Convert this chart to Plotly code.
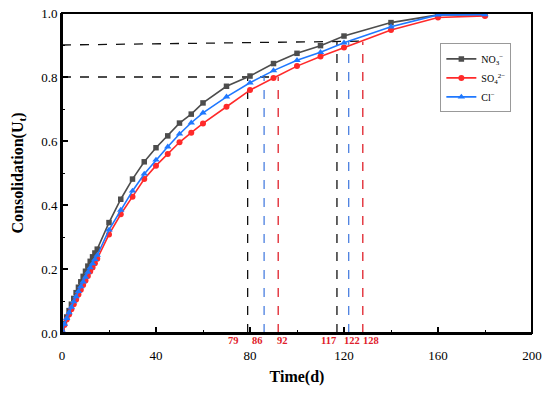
import plotly.graph_objects as go

time_d = list(range(0, 16)) + [20, 25, 30, 35, 40, 45, 50, 55, 60, 70, 80, 90, 100, 110, 120, 140, 160, 180]

no3 = [0.010, 0.030, 0.050, 0.070, 0.090, 0.108, 0.126, 0.143, 0.160, 0.177, 0.193, 0.209, 0.224, 0.238, 0.250, 0.262,
       0.345, 0.418, 0.481, 0.535, 0.579, 0.616, 0.656, 0.684, 0.719, 0.771, 0.803, 0.842, 0.874, 0.898, 0.928,
       0.970, 0.994, 0.995]
so4 = [0.008, 0.025, 0.042, 0.058, 0.074, 0.090, 0.105, 0.120, 0.135, 0.150, 0.164, 0.178, 0.192, 0.205, 0.218, 0.232,
       0.308, 0.371, 0.426, 0.481, 0.523, 0.559, 0.596, 0.626, 0.655, 0.707, 0.759, 0.797, 0.834, 0.864, 0.892,
       0.947, 0.986, 0.991]
cl = [0.009, 0.028, 0.046, 0.064, 0.081, 0.098, 0.114, 0.130, 0.145, 0.160, 0.175, 0.190, 0.204, 0.217, 0.230, 0.243,
      0.322, 0.384, 0.444, 0.497, 0.541, 0.582, 0.622, 0.657, 0.688, 0.738, 0.782, 0.820, 0.852, 0.877, 0.907,
      0.957, 0.994, 0.995]

# guide lines: times reaching 80% and 90% consolidation
t80 = [79, 86, 92]
t90 = [117, 122, 128]
u80 = [0.8, 0.8]
u90 = [0.9, 0.912]
label_pos = [73, 83.3, 94, 113.3, 123.4, 131.5]
label_text = ["79", "86", "92", "117", "122", "128"]

c_black = "#4d4d4d"
c_red = "#ff2a2a"
c_blue = "#1f78ff"
dash_cols = ["#111111", "#4a7fe0", "#e0202a"]

fig = go.Figure()

# dashed guides
fig.add_trace(go.Scatter(x=[0, t80[2]], y=u80, mode="lines",
                         line=dict(color="#111111", width=1.3, dash="dash"), showlegend=False))
fig.add_trace(go.Scatter(x=[0, t90[2]], y=u90, mode="lines",
                         line=dict(color="#111111", width=1.3, dash="dash"), showlegend=False))
for i, t in enumerate(t80):
    fig.add_trace(go.Scatter(x=[t, t], y=[0, 0.8], mode="lines",
                             line=dict(color=dash_cols[i], width=1.3, dash="dash"), showlegend=False))
for i, t in enumerate(t90):
    fig.add_trace(go.Scatter(x=[t, t], y=[0, 0.91], mode="lines",
                             line=dict(color=dash_cols[i], width=1.3, dash="dash"), showlegend=False))

fig.add_trace(go.Scatter(x=time_d, y=no3, mode="lines+markers", name="NO<sub>3</sub><sup>−</sup>",
                         line=dict(color=c_black, width=1.6),
                         marker=dict(symbol="square", size=5.5, color=c_black)))
fig.add_trace(go.Scatter(x=time_d, y=so4, mode="lines+markers", name="SO<sub>4</sub><sup>2−</sup>",
                         line=dict(color=c_red, width=1.6),
                         marker=dict(symbol="circle", size=6, color=c_red)))
fig.add_trace(go.Scatter(x=time_d, y=cl, mode="lines+markers", name="Cl<sup>−</sup>",
                         line=dict(color=c_blue, width=1.6),
                         marker=dict(symbol="triangle-up", size=6.5, color=c_blue)))

for xp, txt in zip(label_pos, label_text):
    fig.add_annotation(x=xp, y=0, text="<b>" + txt + "</b>", showarrow=False,
                       yanchor="top", yshift=0, font=dict(family="Liberation Serif", size=10.5, color="#e0202a"))

# plot frame
fig.add_shape(type="rect", xref="paper", yref="paper", x0=0, x1=1, y0=0, y1=1,
              line=dict(color="black", width=2), layer="above")

axis_common = dict(showline=True, linecolor="black", linewidth=2,
                   ticks="inside", tickcolor="black", tickwidth=1.5, ticklen=6,
                   showgrid=False, zeroline=False,
                   tickfont=dict(family="Liberation Serif", size=13, color="black"))

fig.update_xaxes(range=[0, 200], tickvals=[0, 40, 80, 120, 160, 200],
                 minor=dict(ticks="inside", ticklen=3, tickwidth=1.2, tickcolor="black", dtick=20, tick0=0),
                 title=dict(text="<b>Time(d)</b>", font=dict(family="Liberation Serif", size=16, color="black"),
                            standoff=9),
                 ticklabelstandoff=9,
                 **axis_common)
fig.update_yaxes(range=[0, 1.0], tickvals=[0, 0.2, 0.4, 0.6, 0.8, 1.0], tickformat=".1f",
                 minor=dict(ticks="inside", ticklen=3, tickwidth=1.2, tickcolor="black", dtick=0.1, tick0=0),
                 title=dict(text="<b>Consolidation(U<sub>t</sub>)</b>",
                            font=dict(family="Liberation Serif", size=16, color="black"), standoff=14),
                 automargin=False,
                 **axis_common)

fig.update_layout(
    width=550, height=396,
    margin=dict(l=62, r=18, t=13, b=63, autoexpand=False),
    paper_bgcolor="white", plot_bgcolor="white",
    font=dict(family="Liberation Serif", color="black"),
    legend=dict(x=0.805, y=0.905, xanchor="left", yanchor="top",
                bgcolor="white", bordercolor="#999999", borderwidth=1,
                font=dict(family="Liberation Serif", size=10, color="black"),
                tracegroupgap=0, itemwidth=30),
)

fig.write_html("out.html", config={"displayModeBar": False},
               post_script="document.body.style.margin='0';")
